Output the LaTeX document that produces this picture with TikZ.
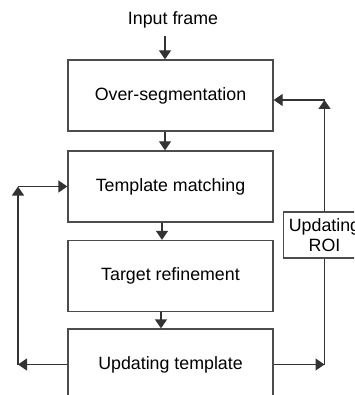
\documentclass[tikz,border=0pt]{standalone}
\usepackage{fontspec}
\setmainfont{Liberation Sans}
\usetikzlibrary{arrows.meta}
\begin{document}
\begin{tikzpicture}[x=1pt,y=-1pt,
    font=\fontsize{17.8}{20.5}\selectfont,
    box/.style={draw=black!70,line width=1.3pt,minimum width=205pt,minimum height=71pt,inner sep=0pt},
    arr/.style={draw=black!80,line width=1.3pt,-{Triangle[width=12pt,length=9pt]}}]
  \clip (0,0) rectangle (354,395);
  \draw
    (173,20) node (in){Input frame}
    (170.5,95.5) node[box] (seg){Over-segmentation}
    (170.5,186.5) node[box] (match){Template matching}
    (170.5,276) node[box] (refine){Target refinement}
    (170.5,364.5) node[box] (upd){Updating template};
  \node[draw=black!70,line width=1.3pt,fill=white,align=center,minimum width=82pt,
    minimum height=46pt,inner sep=0pt] (roi) at (324.5,235) {Updating\\ROI};
  \coordinate (lb) at (18,364.5);
  \coordinate (lt) at (18,186.5);
  \coordinate (rb) at (324.5,364.5);
  \coordinate (rt) at (324.5,100);
  \begin{scope}[arr]
    \draw ([xshift=-8pt,yshift=-4pt]in.south) -- ([xshift=-5.5pt]seg.north);
    \draw ([xshift=-5.5pt]seg.south) -- ([xshift=-5.5pt]match.north);
    \draw ([xshift=-8.5pt]match.south) -- ([xshift=-8.5pt]refine.north);
    \draw ([xshift=-9.5pt]refine.south) -- ([xshift=-9.5pt]upd.north);
    \draw (upd.west) -- (lb);
    \draw (lb) -- (lt);
    \draw (lt) -- (match.west);
    \draw (upd.east) -- (rb);
    \draw (roi.north) -- (rt);
    \draw (rt) -- (rt -| seg.east);
  \end{scope}
  \draw[black!80,line width=1.3pt] (rb) -- (roi.south);
\end{tikzpicture}
\end{document}
